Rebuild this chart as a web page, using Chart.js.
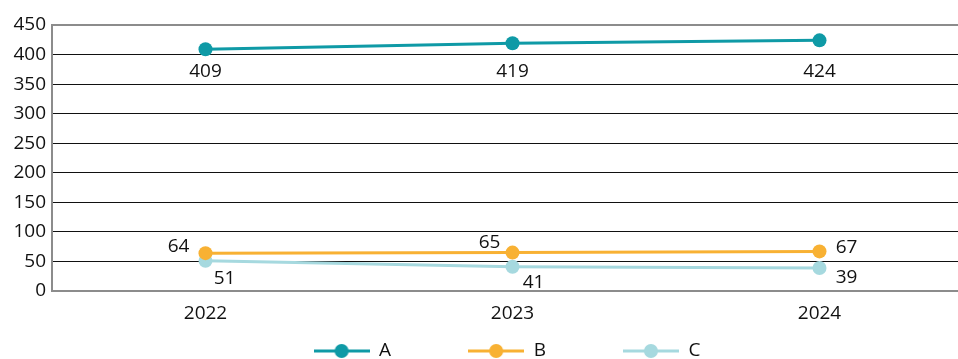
<!DOCTYPE html>
<html>
<head>
<meta charset="utf-8">
<script src="https://cdn.jsdelivr.net/npm/chart.js@4"></script>
<style>
    html, body { margin: 0; padding: 0; overflow: hidden; background: #fff; }
</style>
</head>
<body>
<canvas id="chart" width="980" height="359"></canvas>
<script>
// 数据
const years = ['2022', '2023', '2024'];
const seriesNames = ['A', 'B', 'C'];
const valuesA = [409, 419, 424];
const valuesB = [64, 65, 67];
const valuesC = [51, 41, 39];
const yMin = 0;
const yMax = 450;
const yStep = 50;

const colors = ['#0f9aa6', '#f8b133', '#a6d9df'];
const textColor = '#111111';
const axisGrey = '#8c8c8c';
const fontFamily = '"Open Sans", sans-serif';
const fontSize = 19;

// 数值标签相对于点的偏移
const labelOffsets = [
    [[0, 22], [0, 28], [0, 31]],
    [[-27, -7], [-23, -10], [27, -4]],
    [[19, 18], [21, 16], [27, 10]]
];

const legendPad = 77;

// 图例标记: 线 + 圆点
function legendMarker(color) {
    const c = document.createElement('canvas');
    c.width = 56;
    c.height = 16;
    const g = c.getContext('2d');
    g.strokeStyle = color;
    g.lineWidth = 3;
    g.beginPath();
    g.moveTo(0, 8);
    g.lineTo(56, 8);
    g.stroke();
    g.fillStyle = color;
    g.beginPath();
    g.arc(28, 8, 7, 0, Math.PI * 2);
    g.fill();
    return c;
}
const markers = colors.map(legendMarker);

const valueLabels = {
    id: 'valueLabels',
    afterDatasetsDraw(chart) {
        const ctx = chart.ctx;
        ctx.save();
        ctx.font = fontSize + 'px ' + fontFamily;
        ctx.fillStyle = textColor;
        ctx.textAlign = 'center';
        ctx.textBaseline = 'middle';
        chart.data.datasets.forEach((ds, i) => {
            chart.getDatasetMeta(i).data.forEach((pt, j) => {
                const off = labelOffsets[i][j];
                ctx.fillText(String(ds.data[j]), pt.x + off[0], pt.y + off[1]);
            });
        });
        ctx.restore();
    }
};

// 图例位置微调 (大的 padding 只用于水平间距)
const legendShift = {
    id: 'legendShift',
    afterInit(chart) {
        const lg = chart.legend;
        const orig = lg.draw.bind(lg);
        lg.draw = function() {
            const top = lg.top;
            const left = lg.left;
            lg.top = top - (legendPad - 18.5);
            lg.left = left - 11;
            orig();
            lg.top = top;
            lg.left = left;
        };
    }
};

function makeSet(label, data, color) {
    return {
        label: label,
        data: data,
        borderColor: color,
        backgroundColor: color,
        borderWidth: 3,
        pointRadius: 7,
        pointHoverRadius: 7,
        pointBorderWidth: 0,
        pointBackgroundColor: color,
        tension: 0
    };
}

new Chart(document.getElementById('chart'), {
    type: 'line',
    data: {
        labels: years,
        datasets: [
            makeSet(seriesNames[0], valuesA, colors[0]),
            makeSet(seriesNames[1], valuesB, colors[1]),
            makeSet(seriesNames[2], valuesC, colors[2])
        ]
    },
    options: {
        responsive: false,
        animation: false,
        layout: { padding: { top: 25, left: 0, right: 0, bottom: 0 } },
        plugins: {
            tooltip: { enabled: false },
            legend: {
                position: 'bottom',
                fullSize: false,
                maxHeight: 36,
                labels: {
                    usePointStyle: true,
                    pointStyleWidth: 56,
                    boxHeight: 16,
                    padding: legendPad,
                    color: textColor,
                    font: { family: fontFamily, size: fontSize },
                    generateLabels: function(chart) {
                        const items = Chart.defaults.plugins.legend.labels.generateLabels(chart);
                        items.forEach((it, i) => { it.pointStyle = markers[i]; });
                        return items;
                    }
                }
            }
        },
        scales: {
            x: {
                offset: true,
                grid: { display: false, drawTicks: false },
                border: { display: true, color: axisGrey, width: 2 },
                ticks: {
                    color: textColor,
                    padding: 11,
                    font: { family: fontFamily, size: fontSize }
                },
                afterFit: function(scale) { scale.height = 32; }
            },
            y: {
                min: yMin,
                max: yMax,
                border: { display: true, color: axisGrey, width: 2 },
                grid: {
                    drawTicks: false,
                    color: function(c) {
                        return (c.tick.value === yMax || c.tick.value === yMin) ? axisGrey : textColor;
                    },
                    lineWidth: function(c) {
                        return (c.tick.value === yMax || c.tick.value === yMin) ? 2 : 1;
                    }
                },
                ticks: {
                    stepSize: yStep,
                    color: textColor,
                    padding: 6,
                    font: { family: fontFamily, size: fontSize }
                },
                afterFit: function(scale) { scale.width = 52; }
            }
        }
    },
    plugins: [valueLabels, legendShift]
});
</script>
</body>
</html>
